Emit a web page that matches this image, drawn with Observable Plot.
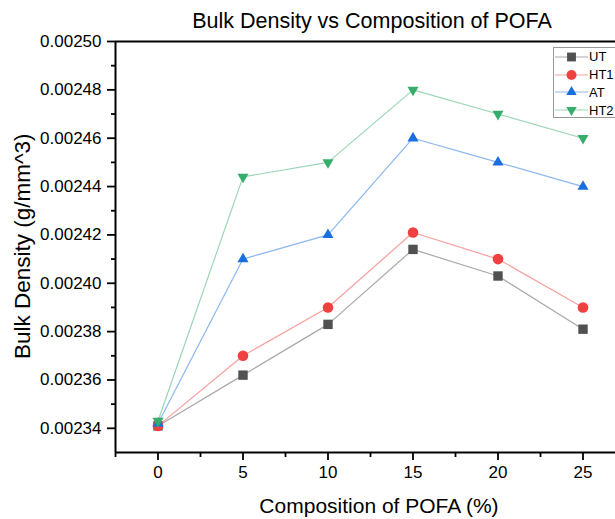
<!DOCTYPE html>
<html><head><meta charset="utf-8">
<script src="https://cdn.jsdelivr.net/npm/d3@7"></script>
<script src="https://cdn.jsdelivr.net/npm/@observablehq/plot@0.6"></script>
<style>
body{margin:0;background:#fff;}
#wrap{position:relative;width:615px;height:519px;overflow:hidden;font-family:"Liberation Sans",Arial,sans-serif;color:#000;}
#wrap > svg{position:absolute;left:0;top:0;}
.lbl{position:absolute;font-size:21px;line-height:21px;white-space:nowrap;}
#title{left:117px;width:510px;top:10.5px;font-size:21.5px;line-height:21.5px;text-align:center;}
#xlabel{left:124px;width:510px;top:495px;text-align:center;}
#ylabel{left:-126.8px;width:300px;top:234.75px;height:22.5px;font-size:22.5px;line-height:22.5px;text-align:center;transform:rotate(-90deg);}
#legend{position:absolute;left:553px;top:47px;width:80px;height:69px;border:1px solid #999;background:#fff;}
.row{position:absolute;left:0;height:18px;display:flex;align-items:center;font-size:13px;}
.row svg{display:block;}
</style></head><body><div id="wrap">
<div id="title" class="lbl">Bulk Density vs Composition of POFA</div>
<div id="xlabel" class="lbl">Composition of POFA (%)</div>
<div id="ylabel" class="lbl">Bulk Density (g/mm^3)</div>
<div id="legend"></div>
</div>
<script>
const series = ["UT", "HT1", "AT", "HT2"];
const composition = [0, 5, 10, 15, 20, 25];
const UT  = [0.002341, 0.002362, 0.002383, 0.002414, 0.002403, 0.002381];
const HT1 = [0.002341, 0.002370, 0.002390, 0.002421, 0.002410, 0.002390];
const AT  = [0.002342, 0.002410, 0.002420, 0.002460, 0.002450, 0.002440];
const HT2 = [0.002343, 0.002444, 0.002450, 0.002480, 0.002470, 0.002460];
const colors = ["#515151", "#F14040", "#1A6FDF", "#37AD6B"];
const xTicks = [0, 5, 10, 15, 20, 25];
const xMinor = [-2.5, 2.5, 7.5, 12.5, 17.5, 22.5];
const yTicks = [0.00234, 0.00236, 0.00238, 0.00240, 0.00242, 0.00244, 0.00246, 0.00248, 0.00250];
const yMinor = [0.00235, 0.00237, 0.00239, 0.00241, 0.00243, 0.00245, 0.00247, 0.00249];

const triangleDown = {
  draw(ctx, size) {
    const s = Math.sqrt(size) * 0.6824, t = s / 2, u = s * Math.sqrt(3) / 2;
    ctx.moveTo(0, s); ctx.lineTo(u, -t); ctx.lineTo(-u, -t); ctx.closePath();
  }
};
const symbols = [d3.symbolSquare, d3.symbolCircle, d3.symbolTriangle2, triangleDown];

const values = {UT, HT1, AT, HT2};
const data = series.flatMap(s => composition.map((x, i) => ({series: s, x, y: values[s][i]})));

const marks = [];
series.forEach(s => {
  const d = data.filter(r => r.series === s);
  marks.push(Plot.line(d, {x: "x", y: "y", stroke: "series", strokeWidth: 1.2, strokeOpacity: 0.5}));
  marks.push(Plot.dot(d, {x: "x", y: "y", fill: "series", symbol: "series", r: 5.3}));
});

const chart = Plot.plot({
  width: 615, height: 519,
  marginLeft: 115, marginTop: 41, marginBottom: 67, marginRight: -10,
  style: {fontFamily: '"Liberation Sans", Arial, sans-serif', fontSize: "17px", color: "#000", background: "transparent"},
  x: {domain: [-2.5, 27.5]},
  y: {domain: [0.00233, 0.00250]},
  color: {domain: series, range: colors},
  symbol: {domain: series, range: symbols},
  marks: [
    ...marks,
    Plot.axisX({ticks: xTicks, tickSize: 8, tickPadding: 5, fontSize: 17, strokeWidth: 1.8, label: null}),
    Plot.axisX({ticks: xMinor, tickSize: 5, strokeWidth: 1.8, text: null, label: null}),
    Plot.axisY({ticks: yTicks, tickSize: 8, tickPadding: 6, fontSize: 17, strokeWidth: 1.8, tickFormat: d3.format(".5f"), label: null}),
    Plot.axisY({ticks: yMinor, tickSize: 4, strokeWidth: 1.8, text: null, label: null}),
    Plot.ruleX([-2.5], {strokeWidth: 2}),
    Plot.ruleY([0.00233], {strokeWidth: 2}),
    Plot.ruleY([0.00250], {strokeWidth: 2})
  ]
});
document.getElementById("wrap").prepend(chart);

// legend
const legend = d3.select("#legend");
const centers = [8.7, 26.5, 44.3, 62];
series.forEach((s, i) => {
  const row = legend.append("div").attr("class", "row").style("top", (centers[i] - 9) + "px");
  const svg = row.append("svg").attr("width", 35).attr("height", 18);
  svg.append("line").attr("x1", 1).attr("x2", 34).attr("y1", 9).attr("y2", 9)
    .attr("stroke", colors[i]).attr("stroke-opacity", 0.5).attr("stroke-width", 1.2);
  svg.append("path").attr("transform", "translate(17.5,9)")
    .attr("d", d3.symbol().type(symbols[i]).size(Math.PI * 25)())
    .attr("fill", colors[i]);
  row.append("span").text(s);
});
</script>
</body></html>
